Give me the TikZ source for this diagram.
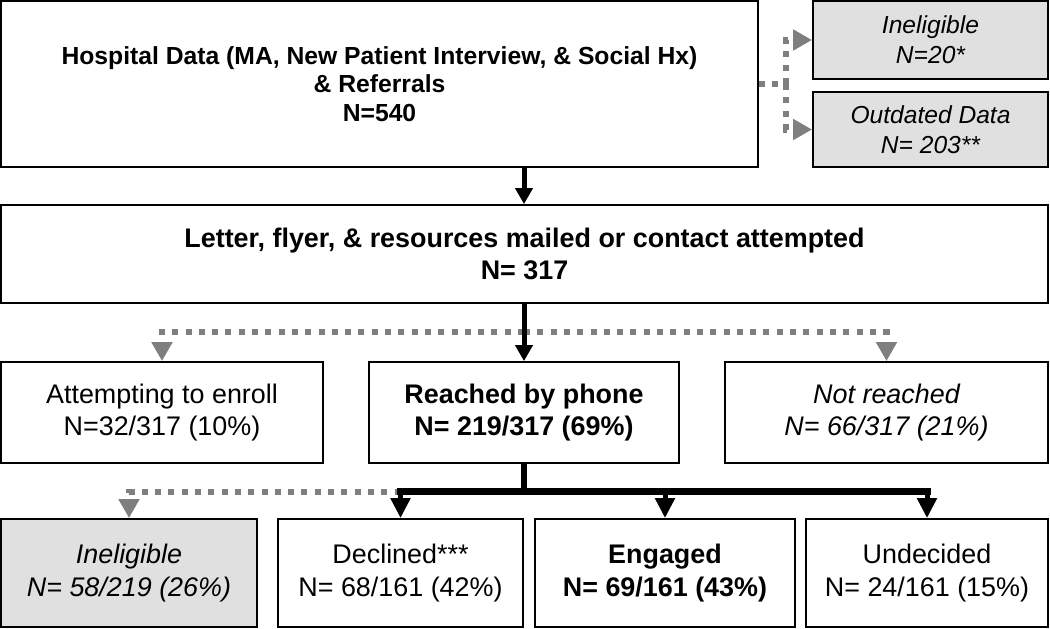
\documentclass[tikz,border=0pt]{standalone}
\usepackage{fontspec}
\setmainfont{Liberation Sans}
\usetikzlibrary{arrows.meta,calc}
\definecolor{boxgray}{RGB}{224,224,224}
\definecolor{dotgray}{RGB}{127,127,127}
\begin{document}
\begin{tikzpicture}[x=1pt,y=-1pt,
  box/.style={draw=black,line width=1.8pt,rectangle,inner sep=0pt,align=center,anchor=center},
  grayfill/.style={fill=boxgray},
  bigtxt/.style={font=\fontsize{26.9}{32}\selectfont},
  bottxt/.style={font=\fontsize{26.9}{33}\selectfont},
  smalltxt/.style={font=\fontsize{24.7}{28.5}\selectfont},
  sidetxt/.style={font=\fontsize{24.6}{30}\selectfont},
  dotline/.style={draw=dotgray,line width=6pt,dash pattern=on 6pt off 7.3pt},
  grayarrow/.style={-{Triangle[width=20pt,length=19pt]}},
  blkarrow/.style={draw=black,line width=5pt,-{Triangle[width=17pt,length=16pt]}},
  botarrow/.style={draw=black,line width=5pt,-{Triangle[width=19pt,length=20pt]}}
]
\useasboundingbox (0,0) rectangle (1050,629);

% boxes
\node[box,smalltxt,minimum width=757pt,minimum height=166pt] (b1) at (379.5,84)
  {\bfseries Hospital Data (MA, New Patient Interview, \& Social Hx)\\\bfseries \& Referrals\\\bfseries N=540};
\node[box,grayfill,sidetxt,minimum width=235pt,minimum height=78pt] (inel1) at (930.5,40)
  {\itshape Ineligible\\\itshape N=20*};
\node[box,grayfill,sidetxt,minimum width=235pt,minimum height=75pt] (outd) at (930.5,129.5)
  {\itshape Outdated Data\\\itshape N= 203**};
\node[box,bigtxt,minimum width=1047pt,minimum height=98pt] (b2) at (524.5,254)
  {\bfseries Letter, flyer, \& resources mailed or contact attempted\\\bfseries N= 317};
\node[box,bigtxt,minimum width=322pt,minimum height=101pt] (att) at (162,412.5)
  {Attempting to enroll\\N=32/317 (10\%)};
\node[box,bigtxt,minimum width=310pt,minimum height=101pt] (reached) at (524,412.5)
  {\bfseries Reached by phone\\\bfseries N= 219/317 (69\%)};
\node[box,bigtxt,minimum width=323pt,minimum height=101pt] (notr) at (886.5,412.5)
  {\itshape Not reached\\\itshape N= 66/317 (21\%)};
\node[box,grayfill,bottxt,minimum width=256pt,minimum height=108pt] (inel2) at (129,573)
  {\itshape Ineligible\\\itshape N= 58/219 (26\%)};
\node[box,bottxt,minimum width=245pt,minimum height=108pt] (decl) at (400.5,573)
  {Declined***\\N= 68/161 (42\%)};
\node[box,bottxt,minimum width=260pt,minimum height=108pt] (eng) at (665,573)
  {\bfseries Engaged\\\bfseries N= 69/161 (43\%)};
\node[box,bottxt,minimum width=242pt,minimum height=108pt] (und) at (927,573)
  {Undecided\\N= 24/161 (15\%)};

% top right dotted connectors
\coordinate (j1) at (786,84);
\draw[dotline] (b1.east) -- (j1);
\draw[dotline,grayarrow] (j1) |- (inel1.west);
\draw[dotline,grayarrow] (j1) |- (outd.west);

% box1 -> box2
\draw[blkarrow] (reached.north |- b1.south) -- (reached.north |- b2.north);

% row 2 connectors
\coordinate (jr) at (524,332);
\draw[dotline,grayarrow] (jr) -| (att.north);
\draw[dotline,grayarrow] (jr) -| (notr.north);
\draw[blkarrow] (reached.north |- b2.south) -- (reached.north);

% row 3 connectors
\coordinate (jb) at ($(reached.south)+(0,28)$);
\draw[dotline,grayarrow] (decl.north |- jb) -| (inel2.north);
\draw[draw=black,line width=6pt] (reached.south) -- (jb);
\draw[draw=black,line width=7pt,line cap=rect] (decl.north |- jb) -- (und.north |- jb);
\draw[botarrow] (decl.north |- jb) -- (decl.north);
\draw[botarrow] (eng.north |- jb) -- (eng.north);
\draw[botarrow] (und.north |- jb) -- (und.north);
\end{tikzpicture}
\end{document}
